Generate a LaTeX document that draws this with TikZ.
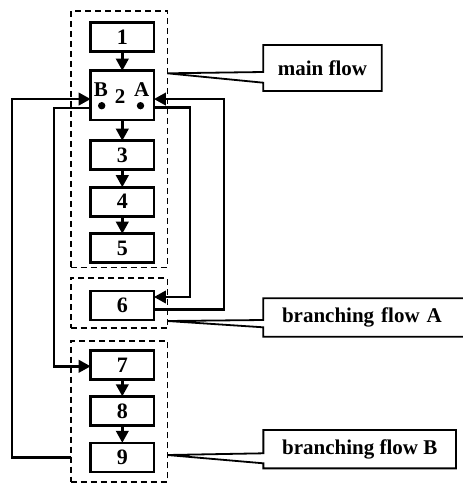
\documentclass[tikz,border=0pt]{standalone}
\usepackage{fontspec}
\setmainfont{Liberation Serif}
\usepackage{tikz}
\usetikzlibrary{arrows.meta, positioning, calc}
\tikzset{
  block/.style={rectangle, draw=black, line width=2.6pt,
    minimum width=63.3pt, minimum height=29pt, inner sep=0pt, outer sep=0pt,
    font=\fontsize{22}{26}\selectfont\bfseries},
  bigblock/.style={block, minimum height=49.3pt},
  group/.style={rectangle, draw=black, dash pattern=on 6pt off 4pt,
    line width=1.6pt, inner sep=0pt, outer sep=0pt},
  callout/.style={rectangle, inner sep=0pt, outer sep=0pt,
    font=\fontsize{21}{25}\selectfont\bfseries},
  frame/.style={line width=1.8pt},
  arrow/.style={-{Triangle[length=12pt, width=12.5pt]}, line width=2.4pt},
  port/.style={circle, fill=black, minimum size=7.4pt, inner sep=0pt},
  portlbl/.style={inner sep=0pt, font=\fontsize{21}{25}\selectfont\bfseries}
}
\begin{document}
\begin{tikzpicture}[x=1pt, y=-1pt, node distance=17.5pt]
  \useasboundingbox (0,0) rectangle (463,483);
  % dashed groups
  \node[group, minimum width=96.6pt, minimum height=256.6pt] (grpMain) at (119,139) {};
  \node[group, minimum width=96.6pt, minimum height=50.3pt] (grpA) at (119,302.9) {};
  \node[group, minimum width=96.6pt, minimum height=141pt] (grpB) at (119,411.2) {};
  % steps
  \node[block] (b1) at (122.3,37.2) {1};
  \node[bigblock, below=19pt of b1] (b2) {};
  \node[block, below=20.7pt of b2] (b3) {3};
  \node[block, below=of b3] (b4) {4};
  \node[block, below=of b4] (b5) {5};
  \node[block, below=28.3pt of b5] (b6) {6};
  \node[block, below=30.3pt of b6] (b7) {7};
  \node[block, below=17pt of b7] (b8) {8};
  \node[block, below=of b8] (b9) {9};
  % inside step 2
  \node[portlbl] (lblB) at (100.8,89.2) {B};
  \node[portlbl] (lbl2) at (120,97) {2};
  \node[portlbl] (lblA) at (141.7,89.5) {A};
  \node[port] (dotB) at (101.7,105.7) {};
  \node[port] (dotA) at (140.5,105.7) {};
  % main flow
  \draw[arrow] (b1) -- (b2);
  \draw[arrow] (b2) -- (b3);
  \draw[arrow] (b3) -- (b4);
  \draw[arrow] (b4) -- (b5);
  \draw[arrow] (b7) -- (b8);
  \draw[arrow] (b8) -- (b9);
  % branches
  \draw[arrow] ([yshift=-12.4pt]b2.west) -- ++(-36.4,0) |- ([yshift=-1.5pt]b7.west);
  \draw[arrow] (grpB.west |- b9.west) -- ++(-59,0) |- ([yshift=-3.7pt]b2.west);
  \draw[arrow] ([yshift=-12pt]b2.east) -- ++(36,0) |- ([yshift=8.5pt]b6.east);
  \draw[arrow] ([yshift=-4pt]b6.east) -- ++(70,0) |- ([yshift=-3.7pt]b2.east);
  % callouts
  \node[callout, minimum width=118.4pt, minimum height=46pt] (cMain) at (322.5,68) {main flow};
  \node[callout, align=left, text width=190pt, inner xsep=18.7pt,
    minimum height=38.4pt, anchor=west] (cA) at (263.3,317.5) {branching flow A};
  \node[callout, minimum width=192.7pt, minimum height=38.3pt] (cB) at (359.7,449.2) {branching flow B};
  \draw[frame] (grpMain.east |- 0,73.3) -- (cMain.west |- 0,72) -- (cMain.north west)
    -- (cMain.north east) -- (cMain.south east) -- (cMain.south west)
    -- (cMain.west |- 0,82.7) -- cycle;
  \draw[frame] (grpA.east |- 0,321) -- (cA.west |- 0,320) -- (cA.north west)
    -- (cA.north east) -- (cA.south east) -- (cA.south west)
    -- (cA.west |- 0,327.3) -- cycle;
  \draw[frame] (grpB.east |- 0,455) -- (cB.west |- 0,453.3) -- (cB.north west)
    -- (cB.north east) -- (cB.south east) -- (cB.south west)
    -- (cB.west |- 0,463.3) -- cycle;
\end{tikzpicture}
\end{document}
